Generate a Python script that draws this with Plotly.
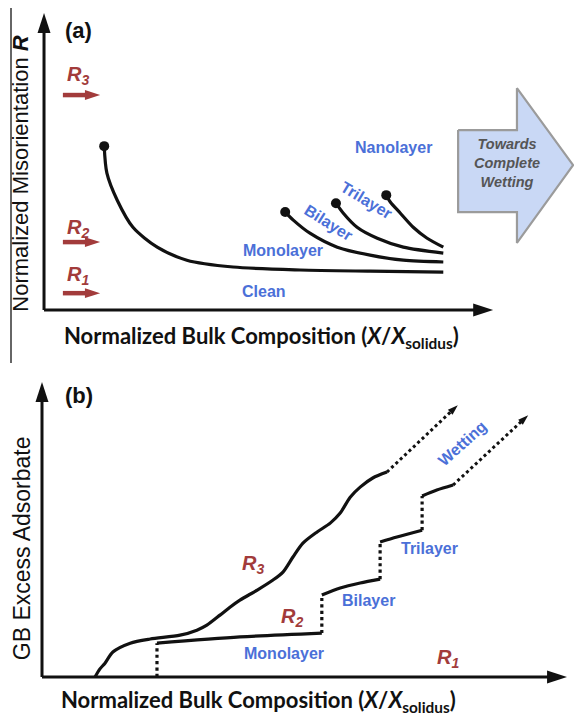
import plotly.graph_objects as go

# ---------------- Panel (a) data : normalized composition vs normalized misorientation
clean_x = [0.134, 0.140, 0.163, 0.198, 0.252, 0.318, 0.421, 0.570, 0.726, 0.889]
clean_y = [0.552, 0.461, 0.370, 0.279, 0.212, 0.168, 0.145, 0.135, 0.131, 0.128]
bilayer_x = [0.537, 0.555, 0.592, 0.653, 0.726, 0.800, 0.889]
bilayer_y = [0.330, 0.303, 0.259, 0.212, 0.185, 0.168, 0.162]
trilayer_x = [0.650, 0.666, 0.697, 0.742, 0.800, 0.889]
trilayer_y = [0.360, 0.327, 0.279, 0.242, 0.212, 0.192]
nano_x = [0.762, 0.771, 0.793, 0.822, 0.853, 0.889]
nano_y = [0.387, 0.364, 0.327, 0.279, 0.242, 0.212]

r_arrow_x = [0.042, 0.125]
r_levels_a = {"3": 0.724, "2": 0.229, "1": 0.057}
r_text_y_a = {"3": 0.791, "2": 0.276, "1": 0.118}

labels_a = [  # text, x, y, angle
    ("Nanolayer", 0.777, 0.549, 0),
    ("Trilayer", 0.719, 0.370, 31),
    ("Bilayer", 0.633, 0.296, 32),
    ("Monolayer", 0.532, 0.202, 0),
    ("Clean", 0.490, 0.064, 0),
]

wet_arrow_x = [0.922, 1.053, 1.053, 1.178, 1.053, 1.053, 0.922, 0.922]
wet_arrow_y = [0.606, 0.606, 0.747, 0.488, 0.226, 0.330, 0.330, 0.606]
wet_text = ["Towards", "Complete", "Wetting"]
wet_text_x = 1.031
wet_text_y = 0.495

# ---------------- Panel (b) data : normalized composition vs GB excess adsorbate
r3_x = [0.101, 0.110, 0.120, 0.135, 0.168, 0.206, 0.263, 0.295, 0.314, 0.339, 0.358,
        0.377, 0.410, 0.440, 0.459, 0.478, 0.497, 0.524, 0.549, 0.568, 0.587, 0.606,
        0.630, 0.657]
r3_y = [0.000, 0.027, 0.047, 0.085, 0.115, 0.129, 0.142, 0.159, 0.176, 0.210, 0.237,
        0.261, 0.295, 0.329, 0.356, 0.407, 0.454, 0.492, 0.522, 0.556, 0.610, 0.644,
        0.675, 0.695]
r3_wet_tip = (0.792, 0.922)

mono_x = [0.219, 0.377, 0.533]
mono_y = [0.115, 0.136, 0.149]
bi_x = [0.533, 0.568, 0.606, 0.644]
bi_y = [0.278, 0.302, 0.319, 0.332]
tri_x = [0.644, 0.676, 0.724]
tri_y = [0.458, 0.475, 0.498]
top_x = [0.724, 0.752, 0.783]
top_y = [0.614, 0.634, 0.651]
r2_wet_tip = (0.926, 0.888)

labels_b = [
    ("Monolayer", 0.461, 0.081, 0),
    ("Bilayer", 0.621, 0.261, 0),
    ("Trilayer", 0.739, 0.437, 0),
    ("Wetting", 0.800, 0.793, -42),
]
r_text_b = {"3": (0.402, 0.380), "2": (0.476, 0.203), "1": (0.773, 0.064)}

XTITLE = "<b>Normalized Bulk Composition (<i>X</i>/<i>X</i><sub>solidus</sub>)</b>"

BLACK = "#111111"
RED = "#a23b3b"
BLUE = "#4b70d8"
SANS = "Liberation Sans, Arial, sans-serif"

fig = go.Figure()


def add_line(x, y, xa, ya, width=3.2, dash=None, color=BLACK, spline=True):
    fig.add_trace(go.Scatter(
        x=x, y=y, xaxis=xa, yaxis=ya, mode="lines",
        line=dict(color=color, width=width, dash=dash,
                  shape="spline" if spline else "linear", smoothing=0.8),
        hoverinfo="skip", showlegend=False, cliponaxis=False))


def add_arrow(x, y, xa, ya, width, head, color=BLACK, dash=None):
    fig.add_trace(go.Scatter(
        x=x, y=y, xaxis=xa, yaxis=ya, mode="lines+markers",
        line=dict(color=color, width=width, dash=dash),
        marker=dict(symbol=["circle"] * (len(x) - 1) + ["arrow"],
                    size=[0] * (len(x) - 1) + [head], angleref="previous",
                    color=color, opacity=1, line=dict(width=0)),
        hoverinfo="skip", showlegend=False, cliponaxis=False))


# ---- panel (a)
add_arrow([0, 0], [0, 1], "x", "y", 3, 21)
add_arrow([0, 1], [0, 0], "x", "y", 3, 21)
for cx, cy in [(clean_x, clean_y), (bilayer_x, bilayer_y),
               (trilayer_x, trilayer_y), (nano_x, nano_y)]:
    add_line(cx, cy, "x", "y")
fig.add_trace(go.Scatter(
    x=[clean_x[0], bilayer_x[0], trilayer_x[0], nano_x[0]],
    y=[clean_y[0], bilayer_y[0], trilayer_y[0], nano_y[0]],
    xaxis="x", yaxis="y", mode="markers",
    marker=dict(color=BLACK, size=10, opacity=1), hoverinfo="skip", showlegend=False))
for k, yv in r_levels_a.items():
    add_arrow(r_arrow_x, [yv, yv], "x", "y", 4.5, 16, color=RED)

fig.add_trace(go.Scatter(
    x=wet_arrow_x, y=wet_arrow_y, xaxis="x", yaxis="y", mode="lines",
    fill="toself", fillcolor="#c9d8f5", line=dict(color="#9b9b9b", width=2.2),
    hoverinfo="skip", showlegend=False, cliponaxis=False))

# ---- panel (b)
add_arrow([0, 0], [0, 1], "x2", "y2", 3, 21)
add_arrow([0, 1], [0, 0], "x2", "y2", 3, 21)
add_line(r3_x, r3_y, "x2", "y2")
add_arrow([r3_x[-1], r3_wet_tip[0]], [r3_y[-1], r3_wet_tip[1]], "x2", "y2", 3, 11, dash="dot")

segments = [(mono_x, mono_y), (bi_x, bi_y), (tri_x, tri_y), (top_x, top_y)]
# first riser from the composition axis up to the monolayer plateau
add_line([mono_x[0], mono_x[0]], [0, mono_y[0]], "x2", "y2", dash="dot", spline=False)
for i, (sx, sy) in enumerate(segments):
    add_line(sx, sy, "x2", "y2")
    if i > 0:
        px, py = segments[i - 1]
        add_line([sx[0], sx[0]], [py[-1], sy[0]], "x2", "y2", dash="dot", spline=False)
add_arrow([top_x[-1], r2_wet_tip[0]], [top_y[-1], r2_wet_tip[1]], "x2", "y2", 3, 11, dash="dot")

# ---------------- annotations
ann = []


def text(t, x, y, xr, yr, size, color=BLACK, family=SANS, angle=0, xanchor="center"):
    ann.append(dict(text=t, x=x, y=y, xref=xr, yref=yr, showarrow=False,
                    font=dict(size=size, color=color, family=family),
                    textangle=angle, xanchor=xanchor, yanchor="middle"))


text("<b>(a)</b>", 0.077, 0.943, "x", "y", 22)
text("<b>(b)</b>", 0.070, 0.956, "x2", "y2", 22)
text("Normalized Misorientation <b><i>R</i></b>", -0.053, 0.46, "x", "y", 22, angle=-90)
text("GB Excess Adsorbate", -0.038, 0.437, "x2", "y2", 23, angle=-90)
text(XTITLE, 0.484, -0.091, "x", "y", 22, family="Lato, Open Sans, sans-serif")
text(XTITLE, 0.412, -0.080, "x2", "y2", 22, family="Lato, Open Sans, sans-serif")

for k, yv in r_text_y_a.items():
    text(f"<b><i>R</i></b><sub><b><i>{k}</i></b></sub>", r_arrow_x[0] + 0.005, yv, "x", "y",
         20, color=RED, xanchor="left")
for k, (xv, yv) in r_text_b.items():
    text(f"<b><i>R</i></b><sub><b><i>{k}</i></b></sub>", xv, yv, "x2", "y2", 20, color=RED)

for t, xv, yv, ang in labels_a:
    text(f"<b>{t}</b>", xv, yv, "x", "y", 16, color=BLUE, angle=ang)
for t, xv, yv, ang in labels_b:
    text(f"<b>{t}</b>", xv, yv, "x2", "y2", 16, color=BLUE, angle=ang)

text("<br>".join(f"<b><i>{t}</i></b>" for t in wet_text), wet_text_x, wet_text_y,
     "x", "y", 14.5, color="#555555")

split = 1 - 360 / 716
fig.update_layout(
    width=574, height=716, autosize=False,
    margin=dict(l=0, r=0, t=0, b=0),
    paper_bgcolor="white", plot_bgcolor="white",
    xaxis=dict(domain=[0, 1], range=[-0.098, 1.180], visible=False, anchor="y"),
    yaxis=dict(domain=[split, 1], range=[-0.168, 1.044], visible=False, anchor="x"),
    xaxis2=dict(domain=[0, 1], range=[-0.080, 1.0133], visible=False, anchor="y2"),
    yaxis2=dict(domain=[0, split], range=[-0.132, 1.075], visible=False, anchor="x2"),
    annotations=ann,
    shapes=[dict(type="line", xref="paper", yref="paper",
                 x0=11 / 574, x1=11 / 574, y0=1 - 8 / 716, y1=1 - 363 / 716,
                 line=dict(color="#333333", width=1.5))],
)

fig.write_html("out.html", config={"displayModeBar": False})
